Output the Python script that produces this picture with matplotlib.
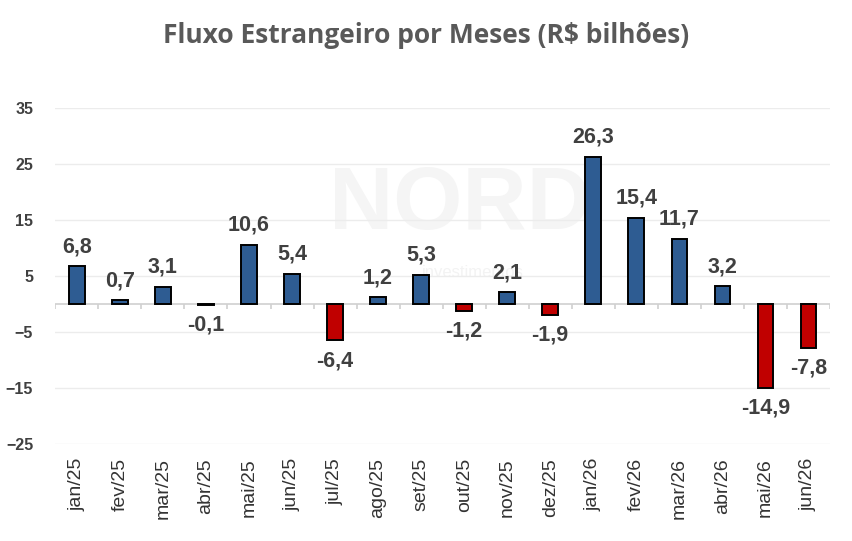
import numpy as np
import matplotlib.pyplot as plt

# Dados
meses = ['jan/25', 'fev/25', 'mar/25', 'abr/25', 'mai/25', 'jun/25', 'jul/25', 'ago/25', 'set/25',
         'out/25', 'nov/25', 'dez/25', 'jan/26', 'fev/26', 'mar/26', 'abr/26', 'mai/26', 'jun/26']
fluxo = [6.8, 0.7, 3.1, -0.1, 10.6, 5.4, -6.4, 1.2, 5.3,
         -1.2, 2.1, -1.9, 26.3, 15.4, 11.7, 3.2, -14.9, -7.8]

azul = '#2E5C92'
vermelho = '#C00000'
cinza = '#404040'
fonte = 'Liberation Sans'

fig = plt.figure(figsize=(8.52, 5.41), dpi=100)
ax = fig.add_axes([0.065, 0.179, 0.909, 0.621])

x = np.arange(len(meses))
cores = [azul if v >= 0 else vermelho for v in fluxo]
ax.bar(x, fluxo, width=0.36, color=cores, edgecolor='black', linewidth=1.4, zorder=3)

# rotulos de valor
for xi, v in zip(x, fluxo):
    txt = f'{v:.1f}'.replace('.', ',')
    if v >= 0:
        ax.text(xi, v + 1.6, txt, ha='center', va='bottom', fontsize=15.5,
                fontweight='bold', color=cinza, family=fonte, zorder=4)
    else:
        ax.text(xi, v - 1.8, txt, ha='center', va='top', fontsize=15.5,
                fontweight='bold', color=cinza, family=fonte, zorder=4)

# marca d'agua
ax.text(8.9, 17.5, 'NORD', ha='center', va='center', fontsize=64, fontweight='bold',
        color='#f5f5f5', family=fonte, zorder=0)
ax.text(9.2, 5.6, 'investimentos', ha='center', va='center', fontsize=12,
        color='#f3f3f3', family=fonte, zorder=0)

ax.set_xlim(-0.5, len(meses) - 0.5)
ax.set_ylim(-25, 35)
ax.set_yticks([35, 25, 15, 5, -5, -15, -25])
ax.grid(axis='y', color='#ececec', linewidth=1, zorder=0)
ax.axhline(0, color='#d0d0d0', linewidth=1.2, zorder=2)
ax.vlines(np.arange(len(meses) + 1) - 0.5, -0.9, 0, color='#d0d0d0', linewidth=1.2, zorder=2)

ax.set_xticks(x)
ax.set_xticklabels(meses, rotation=90, fontsize=14, color='#333333', family=fonte)
ax.tick_params(axis='x', length=0, pad=10)
ax.tick_params(axis='y', length=0, pad=16, labelsize=11.5, labelcolor=cinza)
for lbl in ax.get_yticklabels():
    lbl.set_fontweight('bold')
    lbl.set_family(fonte)
for s in ax.spines.values():
    s.set_visible(False)

fig.suptitle('Fluxo Estrangeiro por Meses (R$ bilhões)', y=0.96, fontsize=19,
             fontweight='bold', color='#595959', family='Open Sans')

plt.savefig('out.png', dpi=100)
